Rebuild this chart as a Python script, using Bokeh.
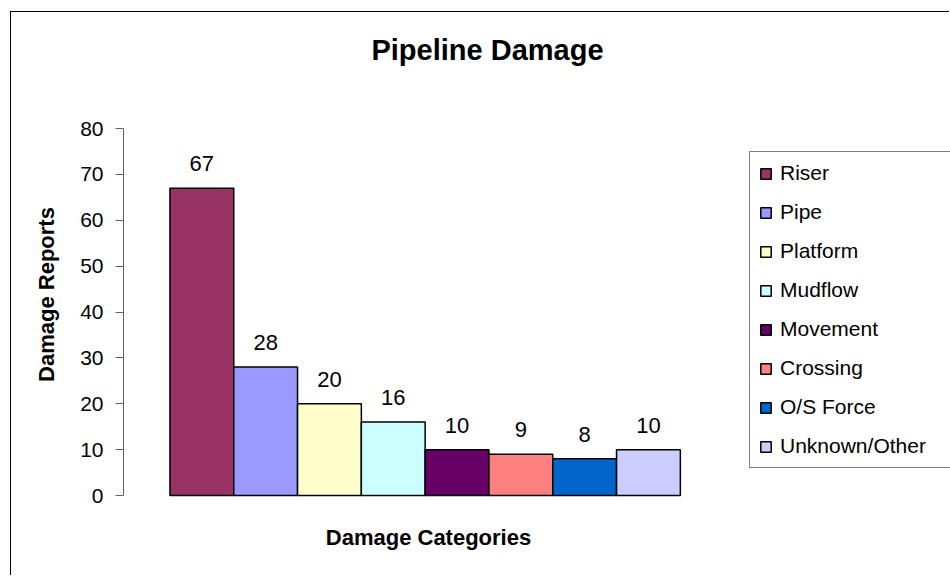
from bokeh.plotting import figure
from bokeh.models import Range1d, ColumnDataSource, LabelSet, Label, FixedTicker
from bokeh.core.properties import value
from bokeh.embed import file_html
from bokeh.resources import INLINE

# ---- data ----
categories = ["Riser", "Pipe", "Platform", "Mudflow", "Movement", "Crossing", "O/S Force", "Unknown/Other"]
reports = [67, 28, 20, 16, 10, 9, 8, 10]
colors = ["#993366", "#9999FF", "#FFFFCC", "#CCFFFF", "#660066", "#FF8080", "#0066CC", "#CCCCFF"]
y_ticks = [0, 10, 20, 30, 40, 50, 60, 70, 80]

FONT = "Liberation Sans"

# ---- layout (pixels on the canvas) ----
W, H = 939, 564
LEFT = 112                     # y axis position
Y0_PX, Y80_PX = 483, 116       # canvas rows of value 0 and value 80
BAR_PX = 63.8                  # width of one category
GAP = 0.728                    # space before first bar, in category widths
frame_w = W - LEFT
ppu = (Y0_PX - Y80_PX) / 80.0
y_start = -(H - Y0_PX) / ppu
y_end = 80 + Y80_PX / ppu
x_start = -0.5 - GAP
x_end = x_start + frame_w / BAR_PX

source = ColumnDataSource(dict(x=list(range(len(categories))), cat=categories,
                               val=reports, color=colors,
                               label=[str(v) for v in reports]))

p = figure(width=W, height=H,
           x_range=Range1d(x_start, x_end), y_range=Range1d(y_start, y_end),
           x_axis_location=None,
           output_backend="svg", toolbar_location=None,
           min_border_left=LEFT, min_border_right=0,
           min_border_top=0, min_border_bottom=0)

# outer chart-area border (left and top edges visible, the rest runs off the window)
p.styles = {"margin-left": "10px", "margin-top": "11px",
            "border-left": "1px solid #000000", "border-top": "1px solid #000000"}

p.vbar(x="x", top="val", width=1.0, source=source, fill_color="color",
       line_color="black", line_width=1.5, legend_field="cat")

labels = LabelSet(x="x", y="val", text="label", source=source, y_offset=17,
                  text_align="center", text_baseline="alphabetic",
                  text_font=value(FONT), text_font_size="22px", text_color="black")
p.add_layout(labels)

p.grid.visible = False
p.outline_line_color = None

# y axis
p.yaxis.ticker = FixedTicker(ticks=y_ticks)
p.yaxis.bounds = (0, 80)
p.yaxis.major_tick_out = 8
p.yaxis.major_tick_in = 0
p.yaxis.minor_tick_line_color = None
p.yaxis.axis_line_color = "#606060"
p.yaxis.major_tick_line_color = "#606060"
p.yaxis.major_label_text_font = FONT
p.yaxis.major_label_text_font_size = "21px"
p.yaxis.major_label_text_color = "black"
p.yaxis.major_label_standoff = 12
p.yaxis.axis_label = "Damage Reports"
p.yaxis.axis_label_text_font = FONT
p.yaxis.axis_label_text_font_size = "22px"
p.yaxis.axis_label_text_font_style = "bold"
p.yaxis.axis_label_text_color = "black"
p.yaxis.axis_label_standoff = 18

# title and category-axis title (screen units are measured from the frame's bottom-left)
title = Label(x=364, y=H - 37, x_units="screen", y_units="screen", text="Pipeline Damage",
              text_align="center", text_baseline="middle", text_font=FONT,
              text_font_size="29px", text_font_style="bold", text_color="black")
p.add_layout(title)

xlabel = Label(x=305, y=H - 525, x_units="screen", y_units="screen", text="Damage Categories",
               text_align="center", text_baseline="middle", text_font=FONT,
               text_font_size="22px", text_font_style="bold", text_color="black")
p.add_layout(xlabel)

# legend (runs off the right edge, as in the reference)
lg = p.legend[0]
lg.location = (626, H - 456)
lg.glyph_width = 13
lg.glyph_height = 13
lg.label_height = 24
lg.label_width = 215
lg.label_standoff = 8
lg.spacing = 15
lg.padding = 9
lg.margin = 0
lg.border_line_color = "black"
lg.border_line_width = 1
lg.background_fill_color = "white"
lg.background_fill_alpha = 1.0
lg.label_text_font = FONT
lg.label_text_font_size = "21px"
lg.label_text_color = "black"

open("out.html", "w").write(file_html(p, INLINE))
